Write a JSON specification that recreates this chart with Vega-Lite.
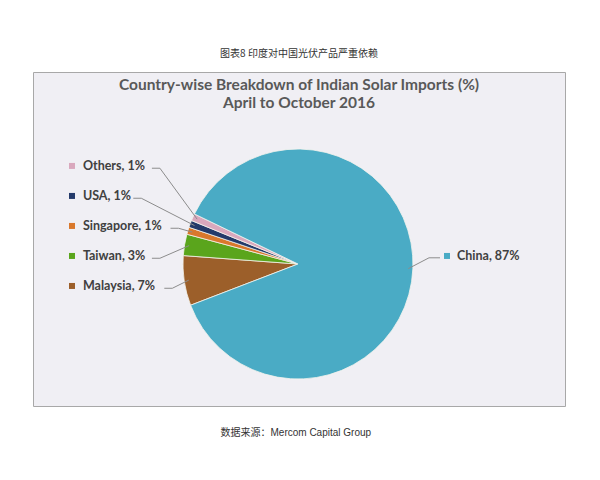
{
  "$schema": "https://vega.github.io/schema/vega-lite/v6.json",
  "width": 532,
  "height": 334,
  "autosize": {"type": "none"},
  "padding": {"left": 33, "top": 72, "right": 35, "bottom": 74},
  "background": "#ffffff",
  "config": {
    "view": {"fill": "#f0eff4", "stroke": "#a8a8a8", "strokeWidth": 1}
  },
  "title": {
    "text": "图表8 印度对中国光伏产品严重依赖",
    "subtitle": ["Country-wise Breakdown of Indian Solar Imports (%)", "April to October 2016"],
    "anchor": "middle",
    "orient": "top",
    "font": "Noto Sans CJK SC",
    "fontSize": 10,
    "fontWeight": "normal",
    "color": "#333333",
    "subtitleFont": "Lato",
    "subtitleFontSize": 15.5,
    "subtitleFontWeight": "bold",
    "subtitleColor": "#595959",
    "subtitlePadding": 19,
    "subtitleLineHeight": 18,
    "offset": -39
  },
  "data": {
    "values": [
      {"country": "Malaysia", "share": 7},
      {"country": "Taiwan", "share": 3},
      {"country": "Singapore", "share": 1},
      {"country": "USA", "share": 1},
      {"country": "Others", "share": 1},
      {"country": "China", "share": 87}
    ]
  },
  "transform": [
    {"window": [{"op": "row_number", "as": "idx"}, {"op": "sum", "field": "share", "as": "cum"}], "frame": [null, 0]},
    {"joinaggregate": [{"op": "sum", "field": "share", "as": "total"}]},
    {"calculate": "4.3459 + (datum.cum - datum.share / 2) / datum.total * 2 * PI", "as": "mid"},
    {"calculate": "sin(datum.mid) >= 0 ? 1 : -1", "as": "side"},
    {"calculate": "datum.side < 0 ? -0.191 + (datum.idx - 1) * 0.261 : 0.07", "as": "ty"},
    {"calculate": "datum.country + ', ' + datum.share + '%'", "as": "label"},
    {"calculate": "datum.side < 0 ? -1.965 : 1.296", "as": "sx"},
    {"calculate": "datum.side < 0 ? -1.870 : 1.383", "as": "tx"}
  ],
  "layer": [
    {
      "mark": {"type": "arc", "outerRadius": 115, "stroke": "#f4f4ee", "strokeWidth": 0.8},
      "encoding": {
        "theta": {"field": "share", "type": "quantitative", "stack": true, "scale": {"range": [4.3459, 10.6291]}},
        "order": {"field": "idx", "type": "quantitative"},
        "color": {
          "field": "country",
          "type": "nominal",
          "scale": {
            "domain": ["China", "Malaysia", "Taiwan", "Singapore", "USA", "Others"],
            "range": ["#4aabc5", "#9c5f2a", "#5aa51c", "#d9782c", "#243a6a", "#d9a8bd"]
          },
          "legend": null
        },
        "x": {
          "datum": 0,
          "type": "quantitative",
          "scale": {"domain": [-2.304, 2.322], "nice": false, "zero": false},
          "axis": {
            "labels": false, "ticks": false, "domain": false, "grid": false,
            "title": "数据来源：Mercom Capital Group",
            "titleFont": "Liberation Sans, Noto Sans CJK SC", "titleFontSize": 10, "titleFontWeight": "normal", "titleColor": "#333333",
            "titleAnchor": "start", "titleAlign": "left", "titleX": 187, "titleY": 26, "titleBaseline": "middle"
          }
        },
        "y": {"datum": 0, "type": "quantitative", "scale": {"domain": [-1.235, 1.670], "nice": false, "zero": false}, "axis": null}
      }
    },
    {
      "transform": [
        {"calculate": "[0, 1, 2]", "as": "pts"},
        {"flatten": ["pts"], "as": ["pt"]},
        {"calculate": "datum.pt == 2 ? 0.96 * sin(datum.mid) : (datum.side < 0 ? datum.tx + (length(datum.label) * 6.2 + 7) / 115 + datum.pt * 8 / 115 : datum.sx - 7 / 115 - datum.pt * 11 / 115)", "as": "lx"},
        {"calculate": "datum.pt == 2 ? 0.96 * cos(datum.mid) : (datum.side < 0 ? datum.ty - 0.02 : datum.ty - 0.016)", "as": "ly"}
      ],
      "mark": {"type": "line", "color": "#8c8c8c", "strokeWidth": 1},
      "encoding": {
        "x": {"field": "lx", "type": "quantitative"},
        "y": {"field": "ly", "type": "quantitative"},
        "detail": {"field": "country"},
        "order": {"field": "pt", "type": "quantitative"}
      }
    },
    {
      "mark": {"type": "point", "shape": "square", "filled": true, "opacity": 1, "size": 36},
      "encoding": {
        "x": {"field": "sx", "type": "quantitative"},
        "y": {"field": "ty", "type": "quantitative"},
        "color": {"field": "country", "type": "nominal", "legend": null}
      }
    },
    {
      "mark": {"type": "text", "align": "left", "baseline": "middle", "font": "Lato", "fontSize": 12.5, "fontWeight": "bold", "color": "#404040"},
      "encoding": {
        "x": {"field": "tx", "type": "quantitative"},
        "y": {"field": "ty", "type": "quantitative"},
        "text": {"field": "label"}
      }
    }
  ]
}
